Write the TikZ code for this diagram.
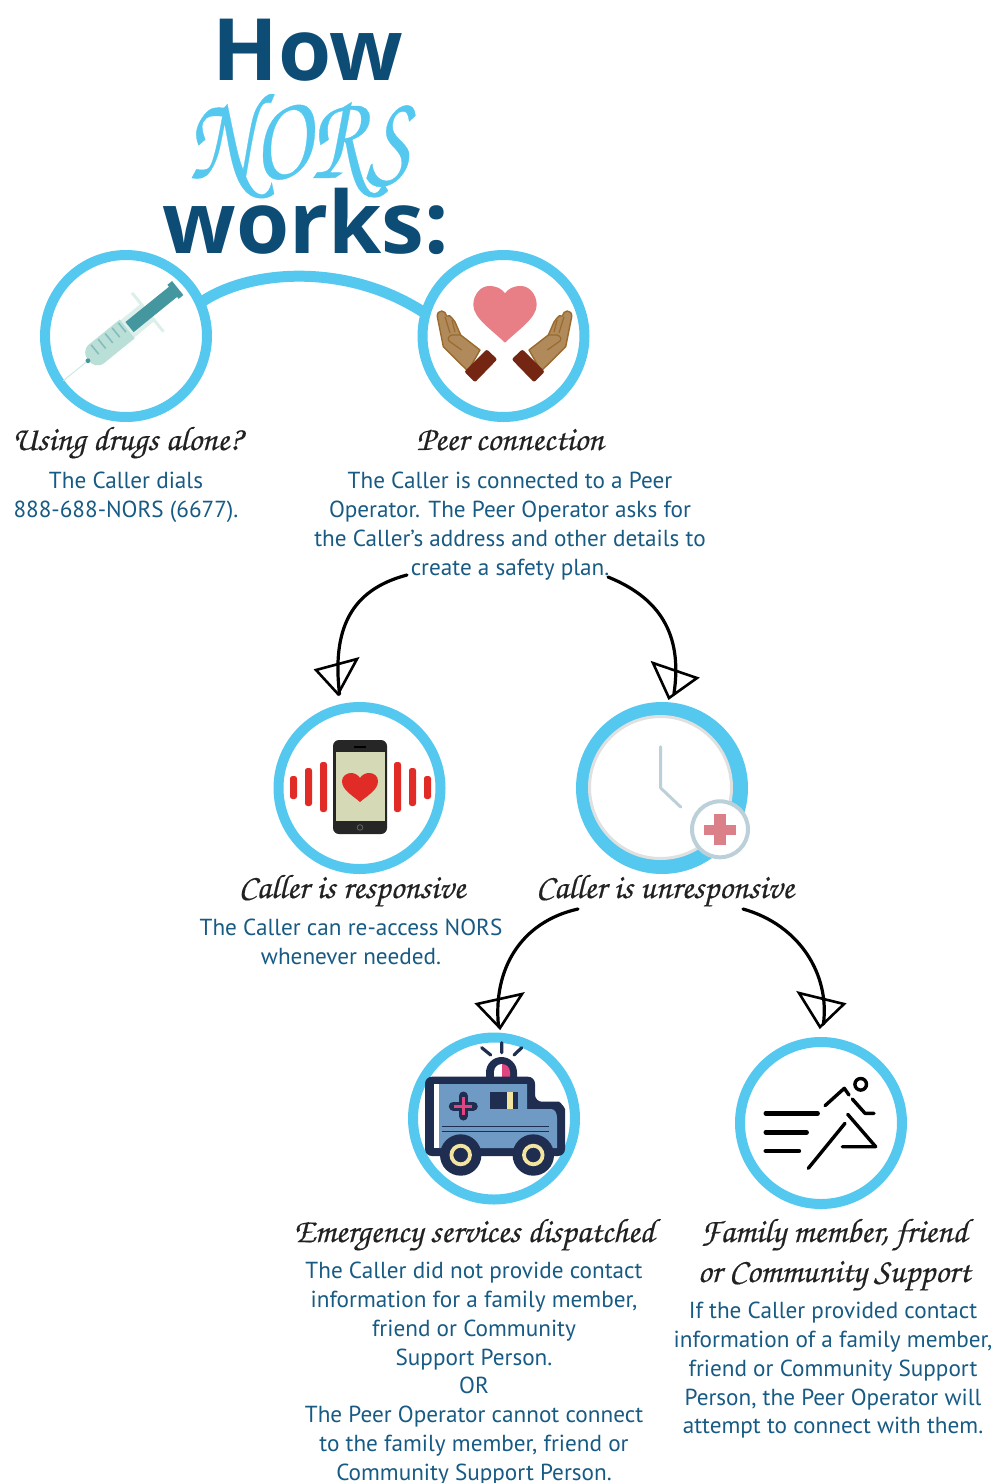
\documentclass[tikz,border=0pt]{standalone}
\usepackage{fontspec}
\setmainfont{PT Sans}
\newfontfamily\titlef{Open Sans}
\newfontfamily\scriptf[FakeBold=0.35]{TeX Gyre Chorus}
\definecolor{ringblue}{HTML}{54C8EE}
\definecolor{titleblue}{HTML}{0D4C75}
\definecolor{bodyblue}{HTML}{175A83}
\definecolor{inkdark}{HTML}{222222}
\definecolor{navy}{HTML}{1F2D50}
\definecolor{amblue}{HTML}{6E9AC4}
\definecolor{amyellow}{HTML}{F3E4A0}
\definecolor{ampink}{HTML}{E0457F}
\definecolor{phred}{HTML}{E02B27}
\definecolor{screenc}{HTML}{D6D9B6}
\definecolor{handc}{HTML}{B08A5A}
\definecolor{handl}{HTML}{9A6A2D}
\definecolor{cuffc}{HTML}{742613}
\definecolor{heartc}{HTML}{E87F86}
\definecolor{clockl}{HTML}{BCD0DA}
\definecolor{crossc}{HTML}{DB7F88}
\definecolor{syrbody}{HTML}{B9DFD6}
\definecolor{syrpale}{HTML}{DDEFEA}
\definecolor{syrdark}{HTML}{45979F}
\tikzset{
  ring/.style={circle,draw=ringblue,line width=10pt,minimum size=162pt,inner sep=0pt,outer sep=0pt},
  bodytext/.style={anchor=north,align=center,inner sep=0pt,text=bodyblue,font=\fontsize{23.2}{28.8}\selectfont},
  headtext/.style={anchor=base,inner sep=0pt,text=inkdark,font=\scriptf\fontsize{34}{38}\selectfont},
  titletext/.style={anchor=base,inner sep=0pt,text=titleblue,font=\titlef\bfseries\fontsize{86}{90}\selectfont},
  curveconn/.style={draw=black,line width=3.2pt,line cap=round},
  sketchtip/.style={draw=black,line width=2.6pt,line join=miter},
  linkarc/.style={draw=ringblue,line width=11pt}
}
\begin{document}
\begin{tikzpicture}[x=1pt,y=-1pt]
\useasboundingbox (0,0) rectangle (995,1483);
% title
\node[titletext] (howt) at (308,80) {How};
\node[anchor=base,inner sep=0pt,text=ringblue,font=\scriptf\fontsize{118}{120}\selectfont] (norst) at (299,178) {\scalebox{0.8}[1.05]{NORS}};
\node[titletext] (workst) at (306,253) {works:};

% circles
\node[ring] (c1) at (126,336) {};
\node[ring] (c2) at (503.5,336) {};
\node[ring] (phone) at (359.5,788) {};
\node[ring,fill=ringblue] (clock) at (662,788) {};
\node[ring] (amb) at (494,1118.5) {};
\node[ring] (runner) at (821,1123) {};
\draw[linkarc] (c1.24) .. controls (250,268) and (350,263) .. (c2.164);

% syringe
\begin{scope}[shift={(86,362.3)},rotate=39]
  \draw[draw=syrbody!70,line width=1pt] (0,0) -- (-29,0);
  \fill[syrpale] (50,-11) rectangle (80,11);
  \fill[syrpale] (78,-25) rectangle (81,25);
  \fill[syrbody] (14,-12) -- (53,-12) -- (53,12) -- (14,12) .. controls (6,12) and (3,6) .. (3,0) .. controls (3,-6) and (6,-12) .. (14,-12) -- cycle;
  \fill[syrdark] (56,-6.5) rectangle (113,6.5);
  \fill[syrdark] (112,-9) rectangle (118,9);
  \fill[syrdark] (2.5,0) circle (2.4);
  \foreach \tx in {15,24,33,42,50}
    \draw[syrdark!65,line width=1.6pt] (\tx,-10.3) -- (\tx,1.7);
\end{scope}

% heart and hands
\fill[heartc] (505,342.7) .. controls (492,330) and (473.3,318) .. (473.3,305)
  .. controls (473.3,294) and (481,286) .. (489,286)
  .. controls (497,286) and (502,289) .. (505,293.3)
  .. controls (508,289) and (513,286) .. (521,286)
  .. controls (529,286) and (536.7,294) .. (536.7,305)
  .. controls (536.7,318) and (518,330) .. (505,342.7) -- cycle;
\foreach \mirror in {1,-1}{
 \begin{scope}[shift={(504.5,0)},xscale=\mirror,shift={(-504.5,0)}]
  \draw[fill=handc,draw=handl,line width=1.4pt,line join=round]
    (441.7,311) .. controls (444,311) and (446,313) .. (446.7,316)
    .. controls (449,315) and (451,316) .. (452,318)
    -- (455,322) -- (460.7,335) -- (480,350) -- (468,371) -- (461.7,365)
    -- (443.3,346.7) -- (437.3,316.7)
    .. controls (437,313) and (439,311) .. (441.7,311) -- cycle;
  \draw[handl,line width=1.2pt,line join=round] (445,316.7) -- (450,333) (452,320) -- (455,332)
    (460.7,335) -- (452,335) .. controls (449,336) and (447,338) .. (449,341) -- (461.7,350);
  \fill[cuffc,rounded corners=2pt] (486.7,349.3) -- (497.3,359.3) -- (475,382.3) -- (464.3,371.7) -- cycle;
 \end{scope}
}

% phone
\fill[black!85,rounded corners=6pt] (333,740) rectangle (387,834);
\fill[screenc] (336,752) rectangle (385,821);
\draw[black,line width=1.5pt] (354,747) -- (366,747);
\draw[black!60,line width=.8pt] (360,827.5) circle (2.8);
\fill[phred] (360,802) .. controls (352,795) and (342,790) .. (342,781)
  .. controls (342,776) and (347,773) .. (351,773)
  .. controls (355,773) and (358,775) .. (360,778)
  .. controls (362,775) and (365,773) .. (369,773)
  .. controls (374,773) and (378,776) .. (378,781)
  .. controls (378,790) and (368,795) .. (360,802) -- cycle;
\foreach \xa/\xb/\ya/\yb in {290/297/776/799,305/312/768/806,320/327/762/812,394/401/762/812,409/416/768/806,424/431/776/799}
  \fill[phred,rounded corners=2.5pt] (\xa,\ya) rectangle (\xb,\yb);

% clock
\draw[fill=white,draw=black!12,line width=3pt] (660.5,787.5) circle (71);
\draw[clockl,line width=3pt,line cap=round,line join=round] (660.7,746.7) -- (660.7,788) -- (680.7,807);
\draw[fill=white,draw=clockl,line width=4pt] (720,829.3) circle (28);
\fill[crossc] (714.3,814) rectangle (725.7,845);
\fill[crossc] (704.3,824.5) rectangle (735.7,835);

% ambulance
\draw[navy,line width=3.2pt,line cap=round] (501.7,1042.7) -- (501.7,1052.7) (481.7,1047.7) -- (490.7,1055) (521.7,1047.7) -- (514,1055);
\fill[navy] (486,1078) -- (486,1072.5) arc[start angle=180,end angle=360,radius=15.5] -- (517,1078) -- cycle;
\fill[white] (494,1078) -- (494,1072) arc[start angle=180,end angle=270,radius=8] -- (502,1078) -- cycle;
\fill[ampink] (502,1078) -- (502,1064) arc[start angle=270,end angle=360,radius=8] -- (510,1078) -- cycle;
\fill[navy,rounded corners=7pt] (425,1076.7) -- (535,1076.7) -- (535,1101.7) -- (552,1101.7) .. controls (560,1101.7) and (565,1108) .. (565,1116) -- (565,1156) -- (425,1156) -- cycle;
\fill[white] (434,1084) rectangle (439,1148);
\fill[amblue] (439,1084) -- (527,1084) -- (527,1109) -- (551,1109) .. controls (555,1109) and (557,1113) .. (557,1118) -- (557,1148) -- (439,1148) -- cycle;
\draw[navy,line width=1.5pt] (441.7,1126.7) -- (549,1126.7) (441.7,1131.7) -- (549,1131.7);
\fill[navy] (490,1091.7) rectangle (507.3,1109.3);
\fill[amyellow] (507.3,1091.7) rectangle (512.7,1109.3);
\fill[navy] (512.7,1091.7) rectangle (518.3,1109.3);
\draw[navy,line width=9pt,line cap=round] (463.3,1096) -- (463.3,1116) (453.3,1106) -- (473.3,1106);
\draw[ampink,line width=3pt] (463.3,1097) -- (463.3,1115) (454.3,1106) -- (472.3,1106);
\foreach \wx in {460.7,533.3}{
  \fill[navy] (\wx,1155) circle (20.7);
  \draw[amyellow,line width=3.8pt] (\wx,1155) circle (9.3);
}

% runner
\draw[black,line width=4.4pt,line cap=round] (765.7,1113.3) -- (817.7,1113.3) (765.7,1132.3) -- (806.7,1132.3) (765.7,1151) -- (799,1151);
\draw[black,line width=3.4pt,line cap=round,line join=round]
  (860.7,1084.3) circle (5.8)
  (825,1105.7) -- (844.3,1088.3) -- (849,1095)
  (852.3,1099) -- (865,1113.3) -- (874,1113.3)
  (847.7,1114.3) -- (875.7,1146.7) -- (842.3,1146.7)
  (845,1123.3) -- (808.3,1168.3);

% headings
\node[headtext] (h1) at (127,450) {Using drugs alone?};
\node[headtext] (h2) at (510,450) {Peer connection};
\node[headtext] (h3) at (352,898) {Caller is responsive};
\node[headtext] (h4) at (665,898) {Caller is unresponsive};
\node[headtext] (h5) at (474,1242) {Emergency services dispatched};
\node[headtext] (h6) at (834,1242) {Family member, friend};
\node[headtext] (h7) at (834,1282) {or Community Support};

% body texts
\node[bodytext] (t1) at (126,472) {The Caller dials\\888-688-NORS (6677).};
\node[bodytext] (t2) at (510,472) {The Caller is connected to a Peer\\Operator. The Peer Operator asks for\\the Caller’s address and other details to\\create a safety plan.};
\node[bodytext] (t3) at (351,919) {The Caller can re-access NORS\\whenever needed.};
\node[bodytext] (t4) at (474,1262) {The Caller did not provide contact\\information for a family member,\\friend or Community\\Support Person.\\OR\\The Peer Operator cannot connect\\to the family member, friend or\\Community Support Person.};
\node[bodytext] (t5) at (833,1302) {If the Caller provided contact\\information of a family member,\\friend or Community Support\\Person, the Peer Operator will\\attempt to connect with them.};

% connectors
\coordinate (s1) at (407,575);
\coordinate (s2) at (608,577);
\coordinate (s3) at (578,909);
\coordinate (s4) at (743,909);
\draw[curveconn,shorten >=15pt] (s1) .. controls (350,590) and (332,630) .. (phone.103);
\draw[curveconn,shorten >=14pt] (s2) .. controls (665,600) and (682,640) .. (clock.83);
\draw[curveconn,shorten >=12pt] (s3) .. controls (520,922) and (493,970) .. (amb.86);
\draw[curveconn,shorten >=18pt] (s4) .. controls (800,925) and (830,975) .. (runner.90);
% arrowheads
\coordinate (a1t) at (338,694); \coordinate (a1l) at (316,670); \coordinate (a1r) at (357,659);
\coordinate (a2t) at (669,698); \coordinate (a2l) at (653,663); \coordinate (a2r) at (697,678);
\coordinate (a3t) at (500,1028); \coordinate (a3l) at (477,1004); \coordinate (a3r) at (522,994);
\coordinate (a4t) at (820,1027); \coordinate (a4l) at (799,993); \coordinate (a4r) at (844,1004);
\draw[sketchtip] (a1t) -- (a1l) -- (a1r) -- cycle;
\draw[sketchtip] (a2t) -- (a2l) -- (a2r) -- cycle;
\draw[sketchtip] (a3t) -- (a3l) -- (a3r) -- cycle;
\draw[sketchtip] (a4t) -- (a4l) -- (a4r) -- cycle;
\end{tikzpicture}
\end{document}
